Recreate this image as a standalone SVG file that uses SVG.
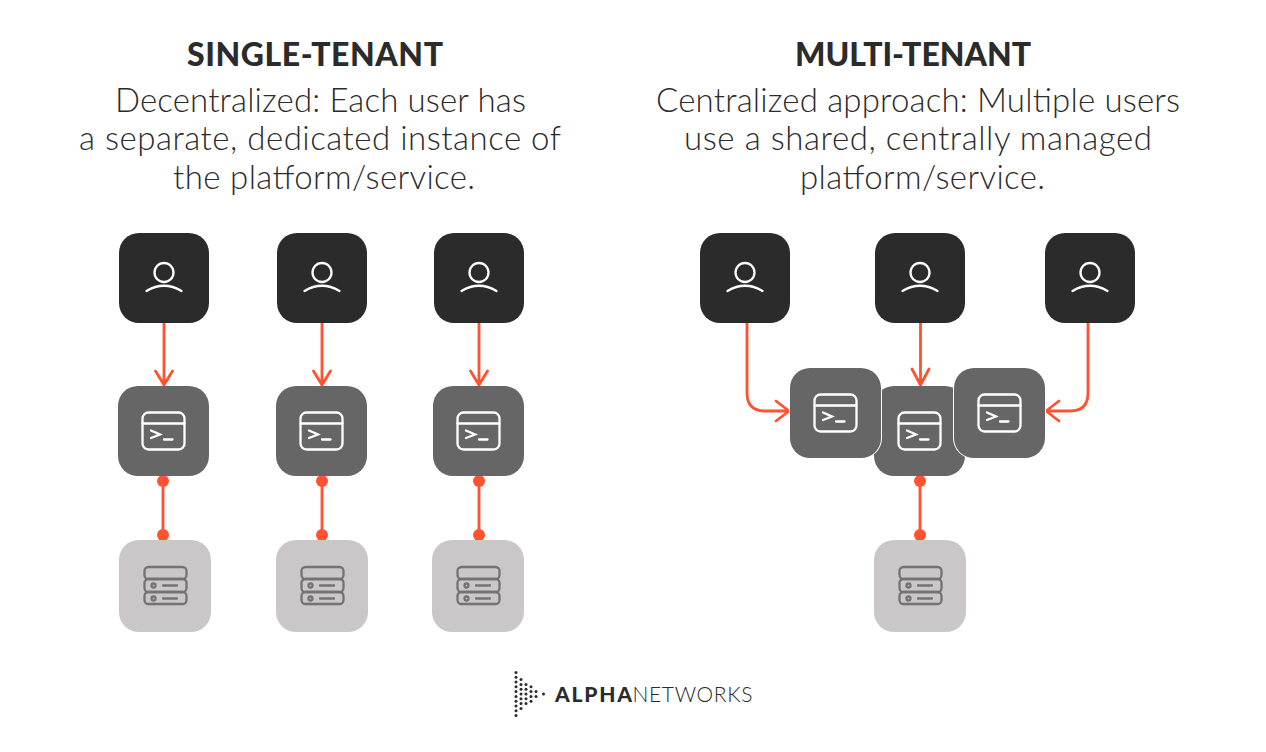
<svg xmlns="http://www.w3.org/2000/svg" width="1266" height="752" viewBox="0 0 1266 752">
<style>
.h{font-family:"Lato","Liberation Sans",sans-serif;font-weight:900;font-size:32px;fill:#2b2b2b;text-anchor:middle}
.s{font-family:"Lato","Liberation Sans",sans-serif;font-weight:300;font-size:33px;fill:#2b2b2b;text-anchor:middle}
.c{fill:none;stroke:#ff5230;stroke-width:2.800;stroke-linecap:round;stroke-linejoin:round}
.d{fill:#ff5230}
.u{fill:#2b2b2b}.t{fill:#666666}.b{fill:#c9c7c8}
.i{fill:none;stroke:#fff;stroke-width:2.300;stroke-linecap:round}
.j{fill:none;stroke:#747273;stroke-width:2.300;stroke-linecap:round}
.l{font-family:"Lato","Liberation Sans",sans-serif;font-size:21px;fill:#2b2b2b}
</style>
<defs>
<g id="user"><rect width="90" height="90" rx="20" class="u"/><circle cx="45" cy="39.500" r="9.500" class="i"/><path d="M27.500 58Q45 47.500 62.500 58" class="i"/></g>
<g id="term"><rect width="91" height="90" rx="20" class="t"/><rect x="24.500" y="26.500" width="42" height="37" rx="6" class="i"/><path d="M24.500 37.500H66.500" class="i"/><path d="M33 44.500L42 48.500L33 52M46 53.500H54.500" class="i" stroke-width="2.600"/></g>
<g id="store"><rect width="92" height="92" rx="20" class="b"/><rect x="25.500" y="27" width="42" height="12" rx="4" class="j"/><rect x="25.500" y="39" width="42" height="13" rx="4" class="j"/><rect x="25.500" y="52" width="42" height="12" rx="4" class="j"/><circle cx="34.500" cy="45.500" r="2" class="j"/><circle cx="34.500" cy="58.500" r="2" class="j"/><path d="M44 45.500H58M44 58.500H58" class="j"/></g>
</defs>
<g id="titles">
<text x="315" y="66" class="h" textLength="256">SINGLE-TENANT</text>
<text x="320.500" y="112" class="s" textLength="411">Decentralized: Each user has</text>
<text x="320" y="150" class="s" textLength="482">a separate, dedicated instance of</text>
<text x="324" y="189" class="s" textLength="302">the platform/service.</text>
<text x="913" y="66" class="h" textLength="236">MULTI-TENANT</text>
<text x="918" y="112" class="s" textLength="524">Centralized approach: Multiple users</text>
<text x="918" y="150" class="s" textLength="468">use a shared, centrally managed</text>
<text x="922.500" y="189" class="s" textLength="245">platform/service.</text>
</g>
<g id="connectors">
<g class="c">
<path d="M164 323V385M155.500 371L164 385L172.500 371"/>
<path d="M322 323V385M313.500 371L322 385L330.500 371"/>
<path d="M479 323V385M470.500 371L479 385L487.500 371"/>
<path d="M920.500 323V385M912 369L920.500 385L929 369"/>
<path d="M747 323V393Q747 411 765 411H789M776 401L789 411L776 421"/>
<path d="M1088 323V393Q1088 411 1070 411H1046M1059 401L1046 411L1059 421"/>
<path d="M163 481V535M322 481V535M479 481V535M920 481V535"/>
</g>
<g class="d">
<circle cx="163" cy="481" r="6"/><circle cx="163" cy="535" r="6"/>
<circle cx="322" cy="481" r="6"/><circle cx="322" cy="535" r="6"/>
<circle cx="479" cy="481" r="6"/><circle cx="479" cy="535" r="6"/>
<circle cx="920" cy="481" r="6"/><circle cx="920" cy="535" r="6"/>
</g>
</g>
<g id="single-user-1"><use href="#user" x="119" y="233"/></g>
<g id="single-user-2"><use href="#user" x="277" y="233"/></g>
<g id="single-user-3"><use href="#user" x="434" y="233"/></g>
<g id="single-term-1"><use href="#term" x="118" y="386"/></g>
<g id="single-term-2"><use href="#term" x="276" y="386"/></g>
<g id="single-term-3"><use href="#term" x="433" y="386"/></g>
<g id="single-store-1"><use href="#store" x="119" y="540"/></g>
<g id="single-store-2"><use href="#store" x="276" y="540"/></g>
<g id="single-store-3"><use href="#store" x="432" y="540"/></g>
<g id="multi-user-1"><use href="#user" x="700" y="233"/></g>
<g id="multi-user-2"><use href="#user" x="875" y="233"/></g>
<g id="multi-user-3"><use href="#user" x="1045" y="233"/></g>
<g id="multi-term-center"><use href="#term" x="874" y="386"/></g>
<g id="multi-term-left"><rect x="789" y="367" width="93" height="92" rx="21" fill="#fff"/><use href="#term" x="790" y="368"/></g>
<g id="multi-term-right"><rect x="953" y="367" width="93" height="92" rx="21" fill="#fff"/><use href="#term" x="954" y="368"/></g>
<g id="multi-store"><use href="#store" x="874" y="540"/></g>
<g id="logo">
<g fill="#2b2b2b">
<circle cx="516" cy="672.500" r="1.500"/><circle cx="516" cy="677.300" r="1.500"/><circle cx="516" cy="682" r="1.500"/><circle cx="516" cy="686.800" r="1.500"/><circle cx="516" cy="691.600" r="1.500"/><circle cx="516" cy="696.400" r="1.500"/><circle cx="516" cy="701.200" r="1.500"/><circle cx="516" cy="706" r="1.500"/><circle cx="516" cy="710.700" r="1.500"/><circle cx="516" cy="715.500" r="1.500"/>
<circle cx="521" cy="679.600" r="1.500"/><circle cx="521" cy="684.400" r="1.500"/><circle cx="521" cy="689.200" r="1.500"/><circle cx="521" cy="694" r="1.500"/><circle cx="521" cy="698.800" r="1.500"/><circle cx="521" cy="703.600" r="1.500"/><circle cx="521" cy="708.400" r="1.500"/>
<circle cx="526" cy="684.400" r="1.500"/><circle cx="526" cy="689.200" r="1.500"/><circle cx="526" cy="694" r="1.500"/><circle cx="526" cy="698.800" r="1.500"/><circle cx="526" cy="703.600" r="1.500"/>
<circle cx="531" cy="686.800" r="1.500"/><circle cx="531" cy="691.600" r="1.500"/><circle cx="531" cy="696.400" r="1.500"/><circle cx="531" cy="701.200" r="1.500"/>
<circle cx="536" cy="691.600" r="1.500"/><circle cx="536" cy="696.400" r="1.500"/>
<circle cx="543.500" cy="694" r="1.500"/>
</g>
<text x="555" y="702" class="l" font-weight="900" textLength="77">ALPHA</text>
<text x="632.500" y="702" class="l" font-weight="300" textLength="120">NETWORKS</text>
</g>
</svg>
